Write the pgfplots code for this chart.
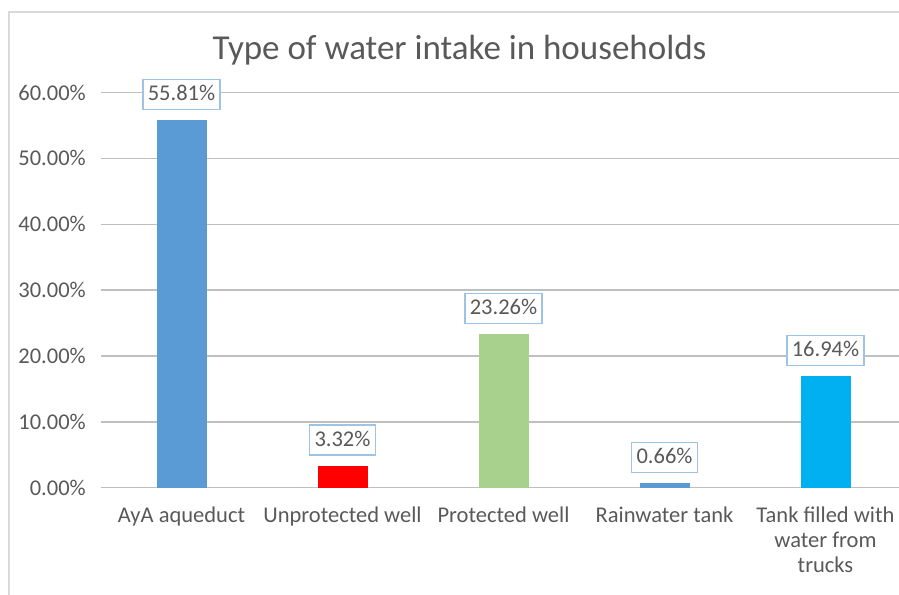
\documentclass[border=0pt]{standalone}
\usepackage{pgfplots}
\pgfplotsset{compat=1.18}
\usepackage{fontspec}
\setmainfont{Carlito}
\definecolor{txt}{HTML}{595959}
\definecolor{grid}{HTML}{D9D9D9}
\definecolor{cBlue}{HTML}{5B9BD5}
\definecolor{cRed}{HTML}{FF0000}
\definecolor{cGreen}{HTML}{A9D18E}
\definecolor{cCyan}{HTML}{00B0F0}
\definecolor{lblBorder}{HTML}{9DC3E6}
\begin{document}
\begin{tikzpicture}[x=1pt,y=1pt]
\draw[grid, line width=1.5pt] (9,-10) -- (9,582) -- (910,582);
\begin{axis}[
  at={(181.5pt,106.3pt)}, anchor=origin,
  scale only axis, width=805pt, height=395.2pt,
  ybar, bar width=50pt, bar shift=0pt,
  xmin=-0.5, xmax=4.5, ymin=0, ymax=60,
  ytick={0,10,...,60},
  xtick={0,1,2,3,4},
  xticklabels={AyA aqueduct, Unprotected well, Protected well, Rainwater tank, {Tank filled with\\water from\\trucks}},
  /pgf/number format/assume math mode=true,
  yticklabel={\pgfmathprintnumber[fixed,fixed zerofill,precision=2]{\tick}\%},
  xmajorgrids=false, ymajorgrids=true, major grid style={grid, line width=1.4pt},
  axis line style={draw=none},
  major tick length=0pt, xtick style={draw=none}, ytick style={draw=none},
  tick label style={font=\fontsize{22.5}{25}\selectfont, text=txt},
  yticklabel style={inner sep=0pt, xshift=-15pt},
  xticklabel style={inner sep=0pt, yshift=-19pt, align=center},
  nodes near coords={\pgfmathprintnumber[fixed,fixed zerofill,precision=2]{\pgfplotspointmeta}\%},
  nodes near coords style={font=\fontsize{22.5}{25}\selectfont, text=txt, draw=lblBorder, line width=1.5pt, fill=white, inner xsep=5pt, inner ysep=6pt, text height=15pt, text depth=3pt, anchor=south, yshift=10pt},
  clip=false,
]
\addplot[fill=cBlue, draw=none] coordinates {(0,55.81)};
\addplot[fill=cRed, draw=none] coordinates {(1,3.32)};
\addplot[fill=cGreen, draw=none] coordinates {(2,23.26)};
\addplot[fill=cBlue, draw=none] coordinates {(3,0.66)};
\addplot[fill=cCyan, draw=none] coordinates {(4,16.94)};
\end{axis}
\node[anchor=base, text=txt, font=\fontsize{35}{40}\selectfont, inner sep=0pt] at (459.5,534) {Type of water intake in households};
\pgfresetboundingbox
\useasboundingbox (0,0) rectangle (899,594);
\end{tikzpicture}
\end{document}
